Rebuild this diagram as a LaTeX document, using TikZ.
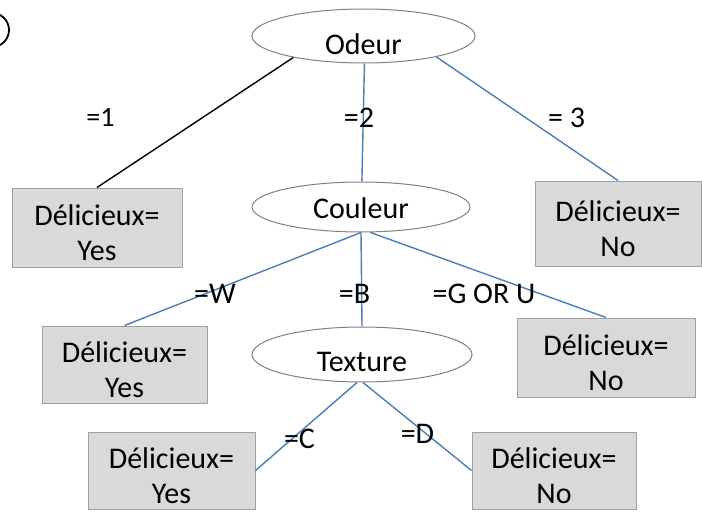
\documentclass[tikz,border=0pt]{standalone}
\usepackage{fontspec}
\setmainfont{Carlito}
\usetikzlibrary{shapes.geometric}
\definecolor{lineblue}{HTML}{4A7EBB}
\definecolor{boxfill}{HTML}{D9D9D9}
\definecolor{boxline}{HTML}{A0A0A0}
\definecolor{ellline}{HTML}{808080}
\newcommand\dlc[1]{\rule{0pt}{31pt}Délicieux=\\#1}
\begin{document}
\begin{tikzpicture}[x=1pt,y=-1pt,
 boxnode/.style={draw=boxline, fill=boxfill, line width=1pt, inner sep=0pt, align=center, font=\fontsize{30}{35}\selectfont},
 ellnode/.style={draw=ellline, ellipse, fill=white, line width=1pt, inner sep=0pt, font=\fontsize{30}{35}\selectfont},
 lbl/.style={inner sep=0pt, font=\fontsize{30}{35}\selectfont},
 blueline/.style={draw=lineblue, line width=1.4pt},
 blackline/.style={draw=black, line width=1.4pt}]
\useasboundingbox (0,0) rectangle (702,519);
\clip (0,0) rectangle (702,519);
\fill[white] (0,0) rectangle (702,519);
\draw[line width=1.8pt] (-8,30) circle[radius=17];
% ellipses
\node[ellnode, minimum width=223pt, minimum height=54pt] (odeur) at (363.5,36) {\rule{0pt}{37pt}Odeur};
\node[ellnode, minimum width=218pt, minimum height=50pt] (couleur) at (361,207) {\rule{0pt}{23pt}Couleur};
\node[ellnode, minimum width=220pt, minimum height=55pt] (texture) at (362,354.5) {\rule{0pt}{35pt}Texture};
% boxes
\node[boxnode, minimum width=170pt, minimum height=79pt] (b1) at (97,227.5) {\dlc{Yes}};
\node[boxnode, minimum width=166pt, minimum height=85pt] (b2) at (618,223.5) {\dlc{No}};
\node[boxnode, minimum width=165pt, minimum height=77pt] (b3) at (124.5,364.5) {\dlc{Yes}};
\node[boxnode, minimum width=178pt, minimum height=79pt] (b4) at (606,357.5) {\dlc{No}};
\node[boxnode, minimum width=167pt, minimum height=77pt] (b5) at (171.5,470.5) {\dlc{Yes}};
\node[boxnode, minimum width=164pt, minimum height=77pt] (b6) at (554,470.5) {\dlc{No}};
% connectors
\draw[blackline] (odeur.197) -- (b1.north);
\draw[blueline] (odeur.272) -- (couleur.88);
\draw[blueline] (odeur.344) -- (b2.north);
\draw[blueline] (couleur.south) -- (b3.north);
\draw[blueline] (couleur.south) -- (texture.north);
\draw[blueline] (couleur.-70) -- (b4.north);
\draw[blueline] (texture.-100) -- (b5.east);
\draw[blueline] (texture.-88) -- (b6.west);
% labels
\node[lbl, font=\fontsize{28}{33}\selectfont] (l1) at (100.5,117.5) {=1};
\node[lbl] (l2) at (359,118) {=2};
\node[lbl] (l3) at (566.5,117.5) {= 3};
\node[lbl] (lw) at (215,294) {=W};
\node[lbl] (lb) at (354.5,294) {=B};
\node[lbl] (lg) at (484,294) {=G OR U};
\node[lbl] (lc) at (299.5,438.5) {=C};
\node[lbl] (ld) at (417.5,434) {=D};
\end{tikzpicture}
\end{document}
